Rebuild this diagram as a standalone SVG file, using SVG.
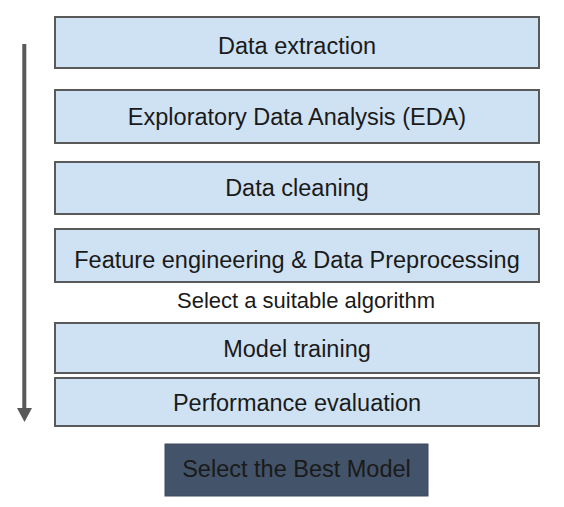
<svg xmlns="http://www.w3.org/2000/svg" width="564" height="507" viewBox="0 0 564 507">
<defs>
<style>
.box{fill:#cfe2f3;stroke:#595959;stroke-width:2}
.t{font-family:"Liberation Sans",Arial,sans-serif;font-size:23.5px;fill:#1a1a1a;text-anchor:middle}
.dark{fill:#435369;stroke:#3d4a5c;stroke-width:1}
</style>
</defs>
<rect width="564" height="507" fill="#fff"/>
<g id="connectors">
<line x1="24.3" y1="44" x2="24.3" y2="409" stroke="#595959" stroke-width="4"/>
<path d="M17,408 L32,408 L24.5,422 Z" fill="#595959"/>
</g>
<g id="n1"><rect class="box" x="55" y="17" width="484" height="51"/><text class="t" x="297" y="54">Data extraction</text></g>
<g id="n2"><rect class="box" x="55" y="90" width="484" height="53"/><text class="t" x="297" y="125">Exploratory Data Analysis (EDA)</text></g>
<g id="n3"><rect class="box" x="55" y="162" width="484" height="52"/><text class="t" x="297" y="196">Data cleaning</text></g>
<g id="n4"><rect class="box" x="55" y="229" width="484" height="53"/><text class="t" x="297" y="268">Feature engineering &amp; Data Preprocessing</text></g>
<g id="label"><text class="t" x="306" y="308" style="font-size:22px">Select a suitable algorithm</text></g>
<g id="n5"><rect class="box" x="55" y="323" width="484" height="50"/><text class="t" x="297" y="357">Model training</text></g>
<g id="n6"><rect class="box" x="55" y="378" width="484" height="48"/><text class="t" x="297" y="411">Performance evaluation</text></g>
<g id="n7"><rect class="dark" x="165" y="444" width="263" height="52"/><text class="t" x="296.5" y="477">Select the Best Model</text></g>
</svg>
